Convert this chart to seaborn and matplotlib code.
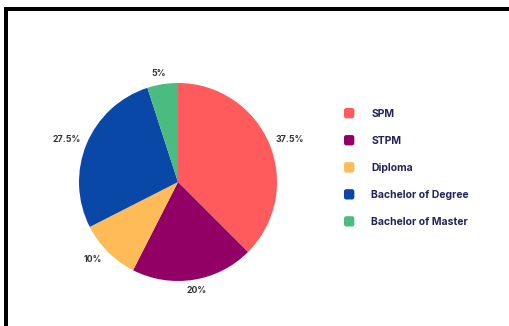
import matplotlib
matplotlib.use("Agg")
import numpy as np
import matplotlib.pyplot as plt
from matplotlib.patches import Rectangle, Patch, FancyBboxPatch
from matplotlib.legend_handler import HandlerPatch
import seaborn as sns

categories = ["SPM", "STPM", "Diploma", "Bachelor of Degree", "Bachelor of Master"]
shares = [37.5, 20, 10, 27.5, 5]
pct_labels = ["37.5%", "20%", "10%", "27.5%", "5%"]
colors = ["#FF5A5C", "#930065", "#FFBB58", "#0A48A8", "#4CBB80"]

sns.set_theme(style="white")
plt.rcParams["font.family"] = ["Inter", "DejaVu Sans"]

W, H = 510, 326
fig = plt.figure(figsize=(W / 100, H / 100), dpi=100)
fig.patch.set_facecolor("white")

# pie axes: centre (178, 182) px, radius 99 px
cx, cy, r = 178, 182, 99
ax = fig.add_axes([(cx - r) / W, (H - cy - r) / H, 2 * r / W, 2 * r / H])
wedges, _ = ax.pie(
    shares,
    colors=colors,
    startangle=90,
    counterclock=False,
    radius=1.0,
    wedgeprops=dict(linewidth=0),
)
ax.set_xlim(-1, 1)
ax.set_ylim(-1, 1)
ax.set_aspect("equal")
ax.axis("off")

# percentage labels just outside the rim
for w, lab in zip(wedges, pct_labels):
    mid = np.deg2rad((w.theta1 + w.theta2) / 2)
    ax.text(1.22 * np.cos(mid), 1.11 * np.sin(mid), lab,
            ha="center", va="center", fontsize=6.3, fontweight="bold",
            color="#333333", clip_on=False)


class RoundedSquare(HandlerPatch):
    def create_artists(self, legend, orig_handle, xdescent, ydescent,
                       width, height, fontsize, trans):
        side = min(width, height)
        p = FancyBboxPatch((-xdescent, -ydescent + (height - side) / 2),
                           side, side,
                           boxstyle=f"round,pad=0,rounding_size={side * 0.22}",
                           facecolor=orig_handle.get_facecolor(),
                           edgecolor="none", transform=trans)
        return [p]


# legend on the right
handles = [Patch(facecolor=c, edgecolor="none") for c in colors]
fs = 7.5
leg = fig.legend(
    handles, categories,
    loc="upper left", bbox_to_anchor=(344 / W, 1 - 108 / H),
    frameon=False, fontsize=fs, handlelength=1.15, handleheight=1.15,
    handletextpad=1.45, labelspacing=1.57, borderaxespad=0, borderpad=0,
    handler_map={Patch: RoundedSquare()},
)
for t in leg.get_texts():
    t.set_color("#23235B")
    t.set_fontweight("bold")

# black frame along the top and left edges
fig.add_artist(Rectangle((4 / W, 1 - 11 / H), 1, 4 / H, transform=fig.transFigure,
                         facecolor="black", edgecolor="none"))
fig.add_artist(Rectangle((4 / W, 0), 4 / W, 1 - 7 / H, transform=fig.transFigure,
                         facecolor="black", edgecolor="none"))

fig.savefig("out.png", dpi=100)
